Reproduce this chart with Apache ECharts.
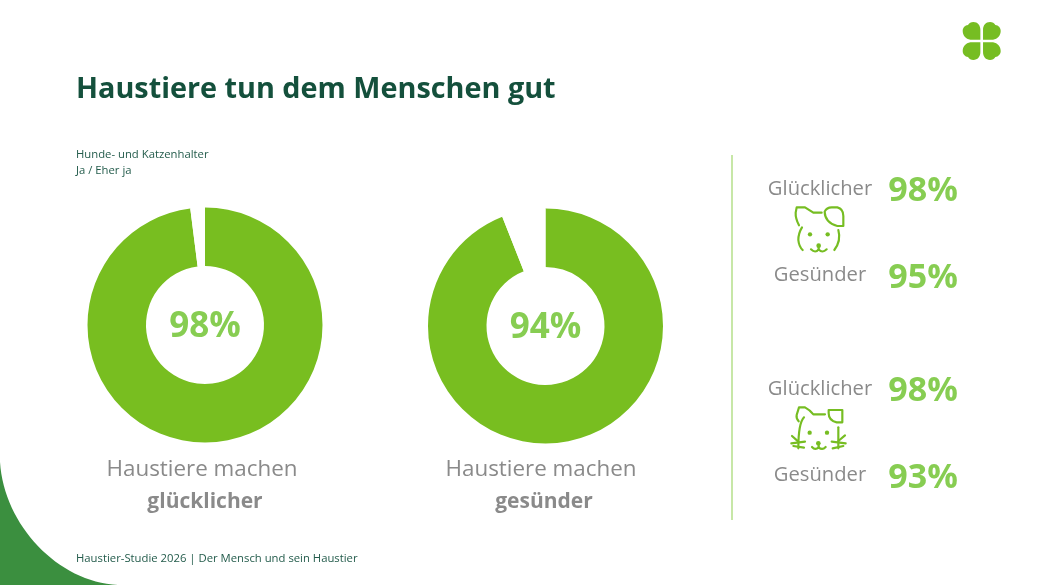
<!DOCTYPE html>
<html><head><meta charset="utf-8">
<style>html,body{margin:0;padding:0;background:#fff}#c{width:1040px;height:585px}</style>
<script src="https://cdn.jsdelivr.net/npm/echarts@6/dist/echarts.min.js"></script>
</head><body><div id="c"></div>
<script>
const titleText = 'Haustiere tun dem Menschen gut';
const subtitleLines = ['Hunde- und Katzenhalter', 'Ja / Eher ja'];
const footerText = 'Haustier-Studie 2026 | Der Mensch und sein Haustier';
const donutValues = [98, 94];
const donutTop = ['Haustiere machen', 'Haustiere machen'];
const donutBold = ['glücklicher', 'gesünder'];
const sideLabels = ['Glücklicher', 'Gesünder', 'Glücklicher', 'Gesünder'];
const sideValues = [98, 95, 98, 93];

const FONT = '"Open Sans", sans-serif';
const GREEN = '#78be20', LIGHT = '#87cd52', GRAY = '#8a8a8a', DARK = '#14503c', FOOT = '#245c4c';
const centers = [[205, 325], [545.5, 326]];
const labelX = [202, 541];
const sideLabelPos = [[820, 189], [820, 275], [820, 389], [820, 475]];
const sideValuePos = [[923, 191], [923, 278], [923, 391], [923, 478]];

let shapeId = 0;
const pathEl = (d, props) => {
  const name = 'decor' + (shapeId++);
  echarts.graphic.registerShape(name, echarts.graphic.extendPath(d));
  return Object.assign({ type: name, silent: true }, props);
};
const txt = (x, y, text, size, fill, align, weight) => ({
  type: 'text', x, y, silent: true,
  style: { text, fill, font: (weight || 'normal') + ' ' + size + 'px ' + FONT, textAlign: align || 'left', textVerticalAlign: 'middle' }
});
const icon = (ox, oy, lines, dots) => ({
  type: 'group', x: ox, y: oy, scaleX: 1 / 3, scaleY: 1 / 3, silent: true,
  children: [
    ...lines.map(d => pathEl(d, { style: { stroke: '#76bd22', lineWidth: 6.5, fill: null, lineCap: 'round', lineJoin: 'round' } })),
    ...dots.map(p => ({ type: 'circle', shape: { cx: p[0], cy: p[1], r: p[2] || 6.5 }, style: { fill: '#76bd22' } }))
  ]
});
const leaf = 'M-4 -4 L-34 -4 C-48 -6 -57 -17 -57 -30 C-57 -40 -50 -47 -41 -48 C-38 -54 -32 -57 -25 -57 C-12 -57 -4 -47 -4 -34 Z';
const clover = [[1, 1], [-1, 1], [1, -1], [-1, -1]].map(s => pathEl(leaf, {
  x: 981.7, y: 41, scaleX: s[0] / 3, scaleY: s[1] / 3, style: { fill: '#76bd22' }
}));
const dog = icon(730, 150, [
  'M207 226 Q196 205 197 188 L200 172 L225 172 L250 188 L275 188',
  'M284 185 Q290 172 305 172 L322 172 Q340 176 340 198 L340 228 L322 228 Q285 218 284 185 Z',
  'M216 232 Q205 250 205 270 Q207 290 218 300',
  'M325 240 Q334 272 313 300',
  'M243 298 Q256 311 266 298 Q277 311 290 298', 'M266 288 L266 298'
], [[240, 253], [293, 253], [266, 287, 7]]);
const cat = icon(730, 360, [
  'M206 184 Q198 175 200 165 L207 142 L225 142 Q240 150 250 163 L285 163',
  'M296 150 L337 150 L337 187 L320 187 Q296 182 296 160 Z',
  'M222 172 Q205 190 205 265', 'M325 202 L325 265',
  'M186 228 L205 245', 'M184 250 L225 245', 'M190 258 L222 263',
  'M345 226 L325 243', 'M347 250 L305 245', 'M340 258 L308 265',
  'M246 261 Q256 272 266 262 Q277 272 287 261', 'M266 250 L266 262'
], [[239, 218], [291, 218], [265, 250, 7]]);

const series = donutValues.map((v, i) => ({
  type: 'pie', center: centers[i], radius: [59, 117.5], startAngle: 90, clockwise: true,
  silent: true, animation: false, emphasis: { disabled: true },
  label: { show: false }, labelLine: { show: false },
  data: [
    { value: v, itemStyle: { color: GREEN }, label: { show: true, position: 'center', offset: [0, 2], formatter: v + '%', color: LIGHT, fontFamily: FONT, fontWeight: 'bold', fontSize: 35 } },
    { value: 100 - v, itemStyle: { color: '#ffffff' } }
  ]
}));

const graphic = [
  pathEl('M0 462 C4 525 58 582 118 585 L0 585 Z', { style: { fill: '#3b8f3f' } }),
  txt(76, 90, titleText, 28.8, DARK, 'left', 'bold'),
  ...subtitleLines.map((s, i) => txt(76, 155 + i * 16, s, 11.3, FOOT)),
  ...donutValues.flatMap((v, i) => [
    txt(labelX[i], 470, donutTop[i], 22.4, GRAY, 'center'),
    txt(labelX[i] + 3, 502, donutBold[i], 21, GRAY, 'center', 'bold')
  ]),
  { type: 'line', silent: true, shape: { x1: 732, y1: 155, x2: 732, y2: 520 }, style: { stroke: '#b5df8a', lineWidth: 1.5 } },
  ...sideLabels.map((s, i) => txt(sideLabelPos[i][0], sideLabelPos[i][1], s, 20.2, GRAY, 'center')),
  ...sideValues.map((v, i) => txt(sideValuePos[i][0], sideValuePos[i][1], v + '%', 34, LIGHT, 'center', 'bold')),
  dog, cat, ...clover,
  txt(76, 559, footerText, 11.3, FOOT)
];

const chart = echarts.init(document.getElementById('c'), null, { renderer: 'canvas' });
chart.setOption({ backgroundColor: '#ffffff', animation: false, series, graphic });
</script></body></html>
